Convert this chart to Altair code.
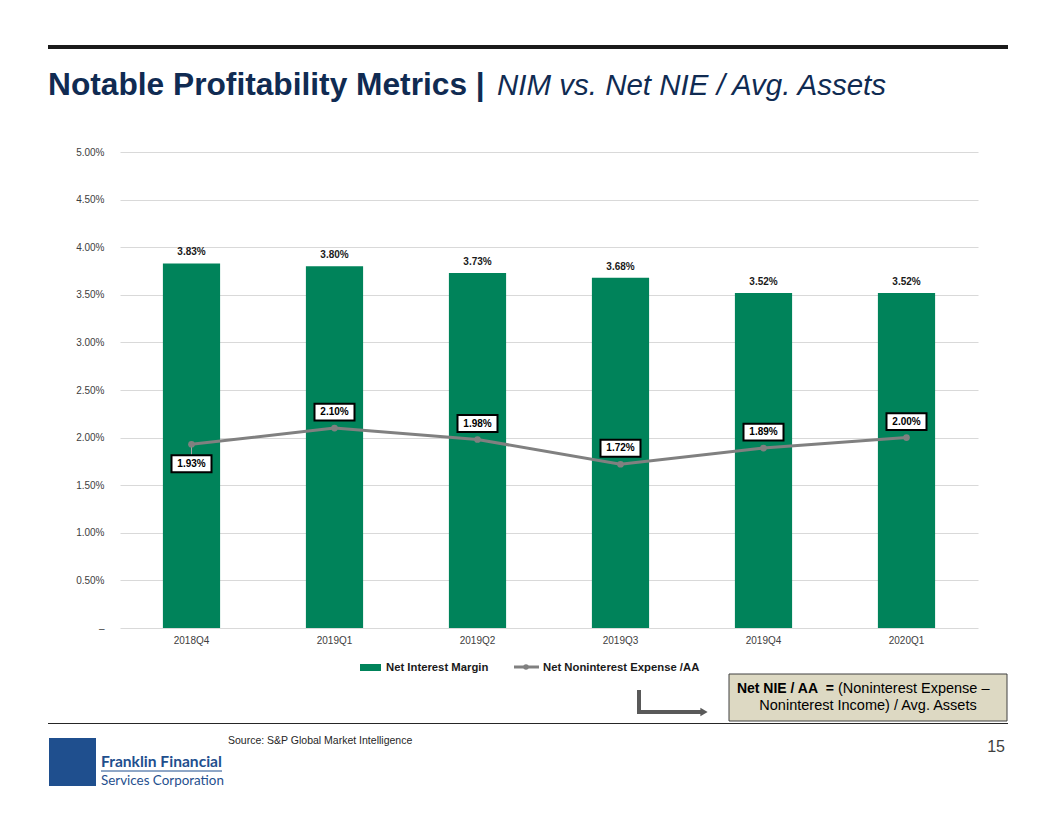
import altair as alt
import pandas as pd

quarters = ["2018Q4", "2019Q1", "2019Q2", "2019Q3", "2019Q4", "2020Q1"]
nim = [3.83, 3.80, 3.73, 3.68, 3.52, 3.52]
nie = [1.93, 2.10, 1.98, 1.72, 1.89, 2.00]
below = [True, False, False, False, False, False]
y_ticks = [0, 0.5, 1.0, 1.5, 2.0, 2.5, 3.0, 3.5, 4.0, 4.5, 5.0]

title_main = "Notable Profitability Metrics |"
title_sub = "NIM vs. Net NIE / Avg. Assets"
legend_bar = "Net Interest Margin"
legend_line = "Net Noninterest Expense /AA"
note_bold = "Net NIE / AA\u00a0\u00a0="
note_l1 = "(Noninterest Expense \u2013"
note_l2 = "Noninterest Income) / Avg. Assets"
source = "Source: S&P Global Market Intelligence"
page_no = "15"
logo1 = "Franklin Financial"
logo2 = "Services Corporation"

df = pd.DataFrame({"q": quarters, "nim": nim, "nie": nie, "below": below})

FONT = "Liberation Sans"
GREEN = "#00835A"
GRAY = "#808080"
NAVY = "#102B52"
LOGO = "#1F4F8E"

W, H = 858, 476

xenc = alt.X("q:N", sort=quarters, title=None,
             scale=alt.Scale(paddingInner=0.6, paddingOuter=0.3),
             axis=alt.Axis(labelAngle=0, ticks=False, domain=False, labelPadding=7,
                           labelFont=FONT, labelFontSize=10, labelColor="#404040"))
yscale = alt.Scale(domain=[0, 5], nice=False)

bars = alt.Chart(df).mark_bar(color=GREEN).encode(
    x=xenc,
    y=alt.Y("nim:Q", scale=yscale, title=None,
            axis=alt.Axis(values=y_ticks, ticks=False, domain=False, labelPadding=16,
                          labelExpr="datum.value == 0 ? '\u2013' : format(datum.value/100, '.2%')",
                          labelFont=FONT, labelFontSize=10, labelColor="#404040",
                          grid=True, gridColor="#D9D9D9", gridWidth=1)),
)
bar_labels = alt.Chart(df).transform_calculate(
    lbl="format(datum.nim, '.2f') + '%'").mark_text(
    dy=-11, font=FONT, fontSize=10, fontWeight="bold", color="#1a1a1a", baseline="middle").encode(
    x=alt.X("q:N", sort=quarters), y=alt.Y("nim:Q", scale=yscale), text="lbl:N")

line = alt.Chart(df).mark_line(color=GRAY, strokeWidth=3).encode(
    x=alt.X("q:N", sort=quarters), y=alt.Y("nie:Q", scale=yscale))
pts = alt.Chart(df).mark_point(filled=True, color=GRAY, size=45, opacity=1).encode(
    x=alt.X("q:N", sort=quarters), y=alt.Y("nie:Q", scale=yscale))

box_shape = "M-1,-0.42L1,-0.42L1,0.42L-1,0.42Z"

def boxes(filt, off):
    base = alt.Chart(df).transform_filter(filt).transform_calculate(
        lbl="format(datum.nie, '.2f') + '%'")
    b = base.mark_point(shape=box_shape, size=1600, filled=False, fill="white",
                        fillOpacity=1, stroke="black", strokeWidth=2, opacity=1,
                        yOffset=off).encode(
        x=alt.X("q:N", sort=quarters), y=alt.Y("nie:Q", scale=yscale))
    t = base.mark_text(font=FONT, fontSize=10, fontWeight="bold", color="black",
                       baseline="middle", yOffset=off).encode(
        x=alt.X("q:N", sort=quarters), y=alt.Y("nie:Q", scale=yscale), text="lbl:N")
    return b, t

ab, at = boxes("!datum.below", -16)
bb, bt = boxes("datum.below", 19.5)
leader = alt.Chart(df).transform_filter("datum.below").mark_point(
    shape="M0,0L0,1", size=484, filled=False, stroke="#A6A6A6", strokeWidth=1,
    opacity=1).encode(x=alt.X("q:N", sort=quarters), y=alt.Y("nie:Q", scale=yscale))

one = pd.DataFrame({"a": [0]})

def txt(text, x, y, size, weight="normal", color="black", align="left",
        baseline="alphabetic", font=FONT, style="normal"):
    return alt.Chart(one).mark_text(text=text, font=font, fontSize=size, fontWeight=weight,
                                    color=color, align=align, baseline=baseline,
                                    fontStyle=style).encode(
        x=alt.value(x), y=alt.value(y))

def rule(x1, x2, y1, y2, color, width):
    return alt.Chart(one).mark_rule(color=color, strokeWidth=width).encode(
        x=alt.value(x1), x2=alt.value(x2), y=alt.value(y1), y2=alt.value(y2))

def rect(x1, x2, y1, y2, fill, stroke=None, sw=0):
    kw = dict(fill=fill, strokeWidth=sw)
    if stroke:
        kw["stroke"] = stroke
    return alt.Chart(one).mark_rect(**kw).encode(
        x=alt.value(x1), x2=alt.value(x2), y=alt.value(y1), y2=alt.value(y2))

deco = [
    rule(-72, 888, -105, -105, "#1a1a1a", 4),
    txt(title_main, -72, -57, 31.7, "bold", NAVY),
    txt(title_sub, 377, -57, 29.5, "normal", NAVY, style="italic"),
    # legend
    rect(240, 261, 512, 519, GREEN),
    txt(legend_bar, 266, 515.5, 11.3, "bold", "#1a1a1a", baseline="middle"),
    rule(394, 419, 515, 515, GRAY, 3),
    alt.Chart(one).mark_point(filled=True, color=GRAY, size=30, opacity=1).encode(
        x=alt.value(406), y=alt.value(515)),
    txt(legend_line, 423, 515.5, 11.3, "bold", "#1a1a1a", baseline="middle"),
    # note box
    rect(609, 887, 522, 569, "#DDD9C3", "#404040", 1),
    txt(note_bold, 714, 537, 14, "bold", "black", align="right", baseline="middle"),
    txt(note_l1, 718, 537, 14.5, "normal", "black", baseline="middle"),
    txt(note_l2, 748, 554, 14.5, "normal", "black", align="center", baseline="middle"),
    # arrow
    rule(519, 519, 538, 562, "#595959", 4),
    rule(517, 582, 560, 560, "#595959", 4),
    alt.Chart(one).mark_point(shape="triangle-right", filled=True, color="#595959",
                              size=70, opacity=1).encode(x=alt.value(584), y=alt.value(560)),
    # bottom
    rule(-72, 888, 571.5, 571.5, "#262626", 1.2),
    txt(source, 108, 592, 10.5, "normal", "#262626"),
    txt(page_no, 885, 600, 16, "normal", "#404040", align="right"),
    rect(-71, -24, 586, 634, LOGO),
    txt(logo1, -19, 615, 15.6, "bold", LOGO, font="Lato"),
    rule(-19, 102, 619, 619, LOGO, 1),
    txt(logo2, -19, 633, 13.4, "normal", LOGO, font="Lato"),
]

chart = alt.layer(bars, bar_labels, line, leader, pts, ab, at, bb, bt, *deco).properties(
    width=W, height=H,
    padding={"left": 112, "top": 144, "right": 60, "bottom": 170},
    autosize=alt.AutoSizeParams(type="none"),
    background="white",
).configure_view(stroke=None)

chart.save("out.html", embed_options={"renderer": "svg", "actions": False})
